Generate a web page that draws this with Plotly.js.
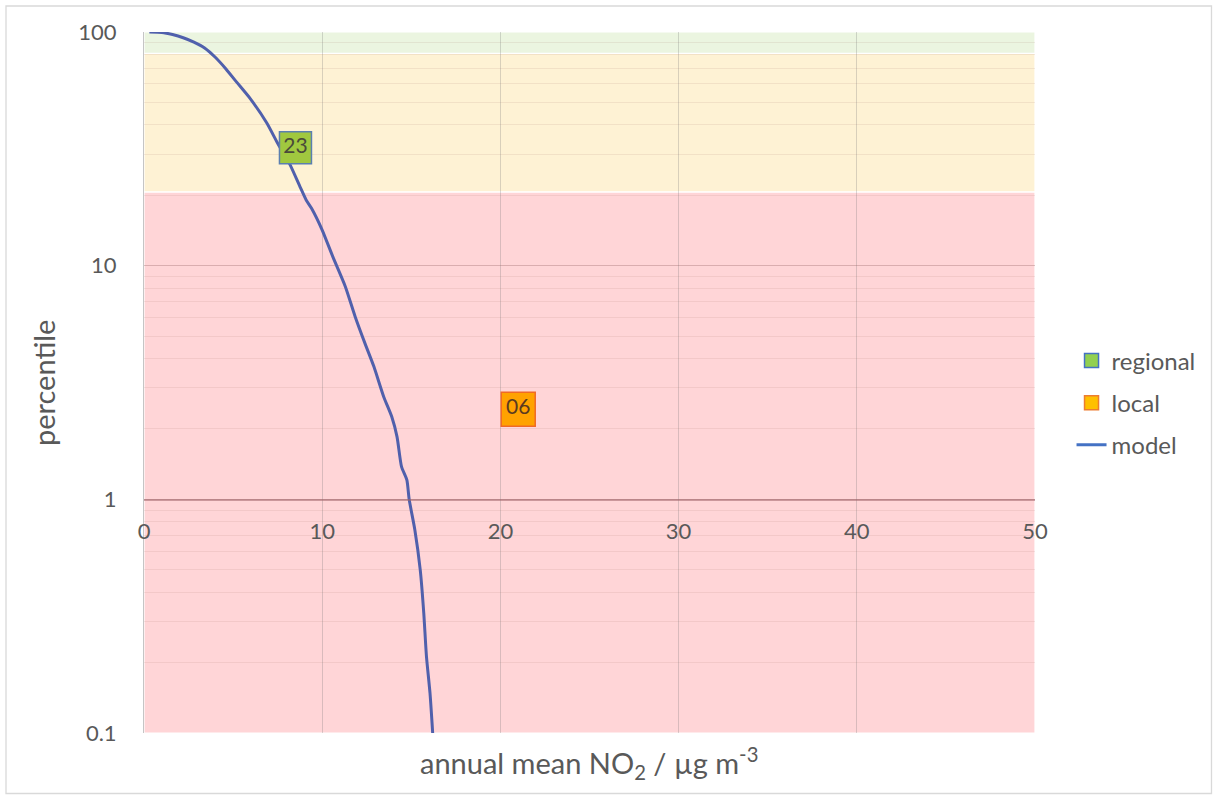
<!DOCTYPE html>
<html><head><meta charset="utf-8">
<script src="https://cdn.plot.ly/plotly-3.0.1.min.js"></script>
<style>html,body{margin:0;padding:0;background:#fff}#chart{width:1213px;height:795px}</style>
</head><body><div id="chart"></div>
<script>
// ---- data ----
const modelX = [0.3, 1.0, 1.6, 2.2, 2.8, 3.4, 4.0, 4.6, 5.2, 5.95, 6.9, 7.5, 8.2, 8.75, 9.1, 9.4, 10.0, 10.6, 11.3, 11.85, 12.4, 12.9, 13.45, 13.9, 14.2, 14.45, 14.75, 14.88, 15.2, 15.5, 15.7, 15.85, 16.05, 16.2];
const modelY = [100, 99.6, 97.5, 94.5, 90.5, 85.5, 78, 69.5, 61, 52, 40.7, 33.4, 27, 21.8, 19.1, 17.6, 14.2, 10.9, 8.13, 6.05, 4.65, 3.7, 2.75, 2.26, 1.85, 1.38, 1.21, 1.0, 0.74, 0.5, 0.326, 0.213, 0.148, 0.1];
const regionalX = [8.5];
const regionalY = [32];
const regionalLabels = ['23'];
const localX = [21];
const localY = [2.43];
const localLabels = ['06'];
const bandLow = [0.1, 20.7, 81];
const bandHigh = [20.7, 81, 100];
const xTicks = [0, 10, 20, 30, 40, 50];
const yTicks = [0.1, 1, 10, 100];
const yTickLabels = ['0.1', '1', '10', '100'];

// ---- styles ----
const bandColors = ['#ffd5d7', '#fef2d4', '#ebf5e0'];
const txt = '#595959';

const minorVals = [];
[0.1, 1, 10].forEach(d => { for (let k = 2; k <= 9; k++) minorVals.push(+(d * k).toPrecision(3)); });

const traces = [
  {x: modelX, y: modelY, mode: 'lines', line: {color: '#5060ac', width: 3, shape: 'spline', smoothing: 0.6}, showlegend: false, hoverinfo: 'skip'},
  {x: regionalX, y: regionalY, mode: 'markers+text', text: regionalLabels, textposition: 'middle center',
   textfont: {size: 21, color: '#4a4a3a'},
   marker: {symbol: 'square', size: 32, color: '#a0c83f', line: {color: '#5b7fb0', width: 1.5}}, showlegend: false},
  {x: localX, y: localY, mode: 'markers+text', text: localLabels, textposition: 'middle center',
   textfont: {size: 21, color: '#5a3a20'},
   marker: {symbol: 'square', size: 34, color: '#ffa200', line: {color: '#f06a25', width: 1.5}}, showlegend: false},
  // legend entries
  {x: [null], y: [null], name: 'regional', mode: 'markers', legendgroup: 'a',
   marker: {symbol: 'square', size: 14, color: '#92d050', line: {color: '#4472c4', width: 1.5}}},
  {x: [null], y: [null], name: 'local', mode: 'markers', legendgroup: 'b',
   marker: {symbol: 'square', size: 14, color: '#ffc000', line: {color: '#ed7d31', width: 1.5}}},
  {x: [null], y: [null], name: 'model', mode: 'lines', legendgroup: 'c', line: {color: '#4472c4', width: 3}}
];

const shapes = bandLow.map((lo, i) => ({
  type: 'rect', xref: 'x', yref: 'y', x0: 0, x1: 50, y0: lo, y1: bandHigh[i],
  fillcolor: bandColors[i], line: {color: '#ffffff', width: 1.2}, layer: 'below'
}));
shapes.push({type: 'rect', xref: 'paper', yref: 'paper',
  x0: (6 - 144) / 891, x1: (1211.5 - 144) / 891, y0: (733 - 793.5) / 701, y1: (733 - 6) / 701,
  line: {color: '#d9d9d9', width: 1.3}, fillcolor: 'rgba(0,0,0,0)', layer: 'below'});

const layout = {
  width: 1213, height: 795,
  margin: {l: 144, r: 178, t: 32, b: 62, pad: 0},
  paper_bgcolor: '#ffffff', plot_bgcolor: 'rgba(0,0,0,0)',
  font: {family: 'Lato, "Open Sans", sans-serif', color: txt},
  showlegend: true,
  legend: {x: 1.041, xanchor: 'left', y: 0.563, yanchor: 'top', tracegroupgap: 8,
    font: {size: 24, color: txt}, bgcolor: 'rgba(0,0,0,0)'},
  xaxis: {range: [0, 50], tickvals: xTicks, ticktext: xTicks.map(String), showgrid: true,
    gridcolor: 'rgba(120,120,120,0.28)', gridwidth: 1, zeroline: false,
    showline: true, linecolor: 'rgba(160,100,105,0.55)', linewidth: 1.5,
    anchor: 'free', position: (733 - 499) / 701, ticks: '', ticklabelstandoff: 12,
    tickfont: {size: 22, color: txt}},
  yaxis: {type: 'log', range: [-1, 2], tickvals: yTicks, ticktext: yTickLabels, showgrid: true,
    gridcolor: 'rgba(150,100,100,0.35)', gridwidth: 1,
    minor: {tickvals: minorVals, showgrid: true, gridcolor: 'rgba(160,110,100,0.12)', gridwidth: 1},
    zeroline: false, showline: true, linecolor: 'rgba(140,140,140,0.5)', linewidth: 1,
    ticks: '', ticklabelstandoff: 22, tickfont: {size: 22, color: txt}},
  annotations: [
    {xref: 'paper', yref: 'paper', x: (589 - 144) / 891, y: (733 - 763) / 701, xanchor: 'center', yanchor: 'middle',
     text: 'annual mean NO<sub>2</sub> / µg m<sup>-3</sup>', showarrow: false, font: {size: 29, color: txt}},
    {xref: 'paper', yref: 'paper', x: (44 - 144) / 891, y: (733 - 383) / 701, xanchor: 'center', yanchor: 'middle',
     text: 'percentile', textangle: -90, showarrow: false, font: {size: 29, color: txt}}
  ],
  shapes: shapes
};

Plotly.newPlot('chart', traces, layout, {displayModeBar: false, staticPlot: true});
</script></body></html>
